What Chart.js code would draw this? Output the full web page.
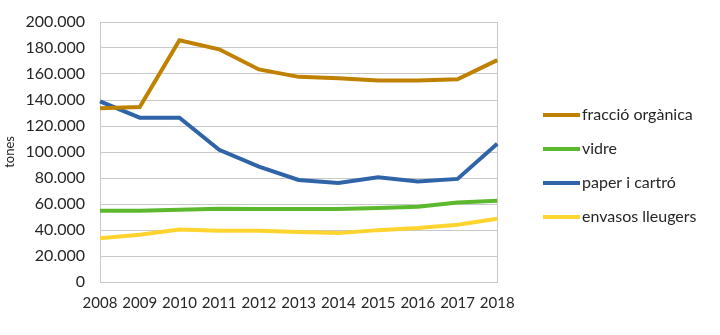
<!DOCTYPE html>
<html>
<head>
<meta charset="utf-8">
<script src="https://cdn.jsdelivr.net/npm/chart.js@4"></script>
<style>
  html, body { margin: 0; padding: 0; background: #fff; }
  #wrap { width: 720px; height: 335px; }
</style>
</head>
<body>
<div id="wrap"><canvas id="residusChart" width="720" height="335"></canvas></div>
<script>
const years = ['2008', '2009', '2010', '2011', '2012', '2013', '2014', '2015', '2016', '2017', '2018'];

const organica = [133600, 134600, 186000, 179000, 163500, 157800, 156800, 155000, 155000, 156000, 170700];
const vidre = [54800, 54800, 55600, 56400, 56100, 56100, 56100, 56900, 57900, 61200, 62500];
const paper = [139000, 126400, 126400, 101700, 88800, 78500, 76200, 80500, 77400, 79300, 106300];
const envasos = [33700, 36300, 40400, 39400, 39400, 38400, 37600, 39900, 41500, 44000, 48600];

const gridColor = '#c8c8c8';
const textColor = '#262626';

// short thick stroke used as the legend marker
function legendStroke(color) {
    const c = document.createElement('canvas');
    c.width = 37;
    c.height = 4;
    const g = c.getContext('2d');
    g.fillStyle = color;
    g.fillRect(0, 0, 37, 4);
    return c;
}

// move the legend block next to the plot once the layout is done
const legendPlace = {
    id: 'legendPlace',
    afterLayout(chart) {
        const lg = chart.legend;
        if (!lg) return;
        const w = lg.right - lg.left;
        lg.left = 531;
        lg.right = 531 + w;
        lg.top += 0.5;
        lg.bottom += 0.5;
    }
};

function serie(label, data, color) {
    return {
        label: label,
        data: data,
        borderColor: color,
        backgroundColor: color,
        borderWidth: 4,
        pointRadius: 0,
        pointStyle: legendStroke(color),
        tension: 0,
        fill: false
    };
}

function drawChart() {
    const ctx = document.getElementById('residusChart').getContext('2d');

    new Chart(ctx, {
        type: 'line',
        data: {
            labels: years,
            datasets: [
                serie('fracció orgànica', organica, '#c08000'),
                serie('vidre', vidre, '#5cb82c'),
                serie('paper i cartró', paper, '#3064a8'),
                serie('envasos lleugers', envasos, '#ffd42e')
            ]
        },
        plugins: [legendPlace],
        options: {
            responsive: false,
            animation: false,
            layout: {
                padding: { top: 7, left: 0, right: 57, bottom: 11 }
            },
            scales: {
                x: {
                    offset: false,
                    grid: {
                        drawTicks: false,
                        color: (c) => (c.index === 0 || c.index === years.length - 1) ? gridColor : 'transparent'
                    },
                    border: { color: gridColor },
                    ticks: {
                        padding: 12,
                        color: textColor,
                        font: { family: 'Lato', size: 15 },
                        maxRotation: 0,
                        autoSkip: false
                    }
                },
                y: {
                    min: 0,
                    max: 200000,
                    afterFit: (scale) => {
                        scale.width = 100;
                        scale.paddingTop = 22;
                    },
                    grid: { drawTicks: false, color: gridColor },
                    border: { color: gridColor },
                    title: {
                        display: true,
                        text: 'tones',
                        color: textColor,
                        font: { family: 'Lato', size: 13 },
                        padding: { top: 2, bottom: 0 }
                    },
                    ticks: {
                        stepSize: 20000,
                        padding: 15,
                        color: textColor,
                        font: { family: 'Lato', size: 16 },
                        callback: (v) => v === 0 ? '0' : v.toLocaleString('de-DE')
                    }
                }
            },
            plugins: {
                legend: {
                    position: 'right',
                    labels: {
                        usePointStyle: true,
                        pointStyleWidth: 25,
                        boxHeight: 4,
                        padding: 18,
                        color: textColor,
                        font: { family: 'Lato', size: 16 }
                    }
                },
                tooltip: { enabled: false }
            }
        }
    });
}

document.addEventListener('DOMContentLoaded', drawChart);
</script>
</body>
</html>
